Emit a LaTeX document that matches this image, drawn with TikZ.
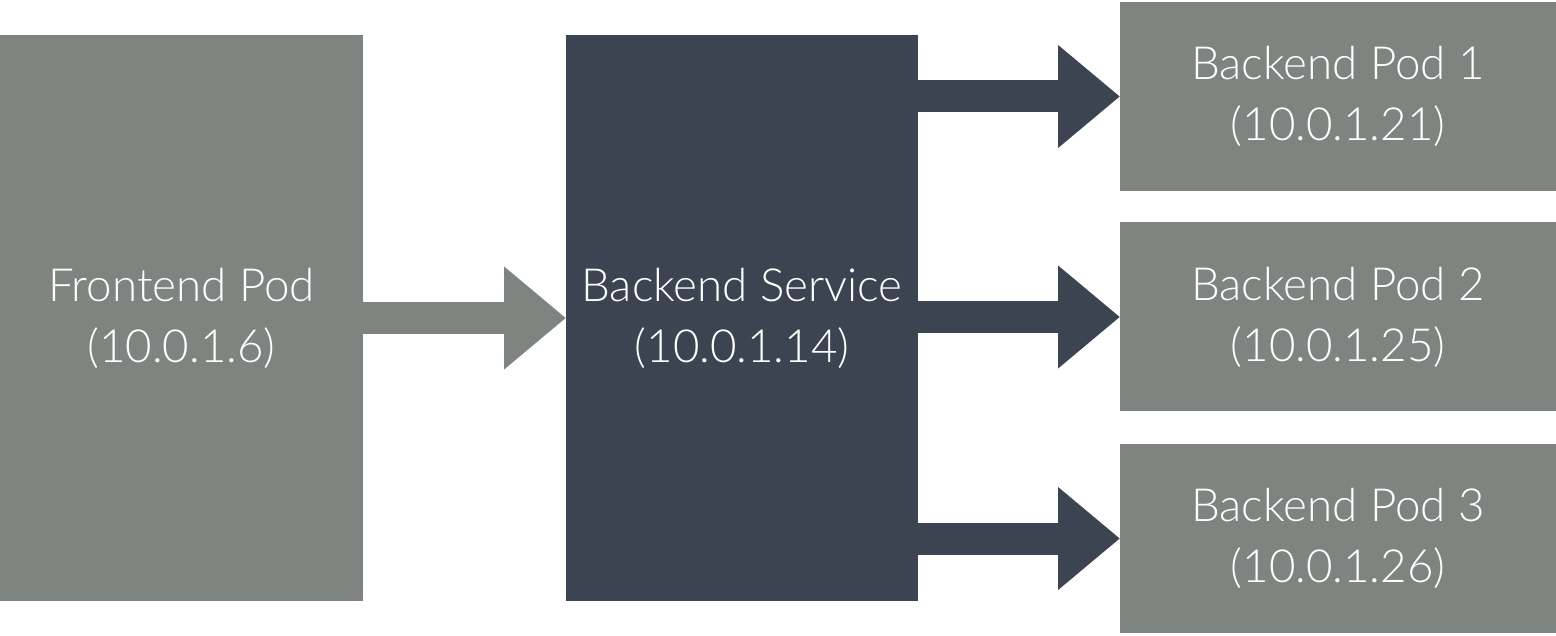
\documentclass[tikz,border=0pt]{standalone}
\usepackage{fontspec}
\setmainfont{Lato}[UprightFont=* Light]
\usepackage{xcolor}
\usepackage{tikz}
\usetikzlibrary{arrows.meta,positioning}
\definecolor{podfill}{RGB}{127,132,129}
\definecolor{svcfill}{RGB}{61,68,81}
\tikzset{
  box/.style ={fill=#1, text=white, align=center, font=\fontsize{13}{17.4}\selectfont, inner sep=0pt, outer sep=0pt},
  flow/.style={draw=#1, line width=3.2mm, -{Triangle[length=6.2mm, width=9.9mm]}}
}

\begin{document}
\begin{tikzpicture}
  \useasboundingbox (0,0) rectangle (15.56,6.35);
  \node[box=podfill, minimum width=36.3mm, minimum height=56.6mm] (fe) at (1.815,3.17) {Frontend Pod\\(10.0.1.6)};
  \node[box=svcfill, minimum width=35.2mm, minimum height=56.6mm] (svc) at (7.42,3.17) {Backend Service\\(10.0.1.14)};
  \node[box=podfill, minimum width=43.6mm, minimum height=18.9mm] (bp1) at (13.38,5.385) {Backend Pod 1\\(10.0.1.21)};
  \node[box=podfill, minimum width=43.6mm, minimum height=18.9mm] (bp2) at (13.38,3.18) {Backend Pod 2\\(10.0.1.25)};
  \node[box=podfill, minimum width=43.6mm, minimum height=18.9mm] (bp3) at (13.38,0.965) {Backend Pod 3\\(10.0.1.26)};
  \draw[flow=podfill] (fe.east) -- (svc.west);
  \foreach \p in {bp1,bp2,bp3}
    \draw[flow=svcfill] (svc.east |- \p.west) -- (\p.west);
\end{tikzpicture}
\end{document}
